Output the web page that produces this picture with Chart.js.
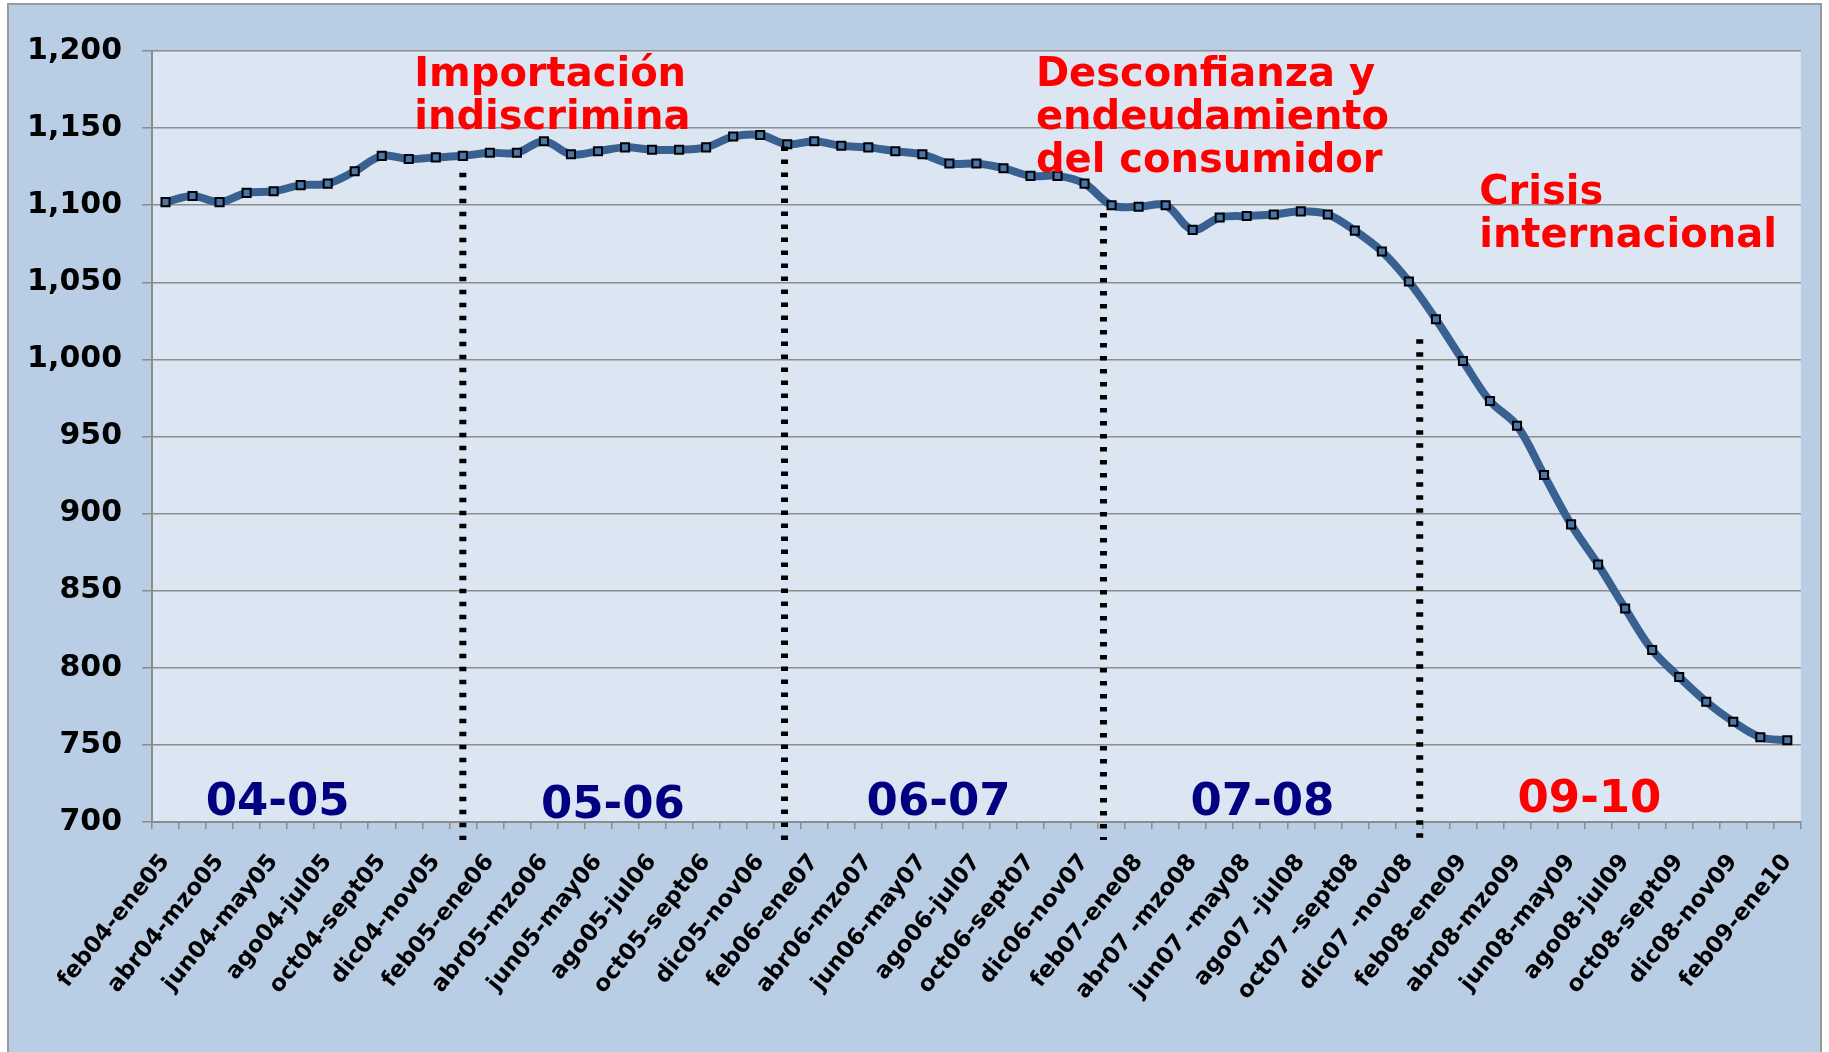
<!DOCTYPE html>
<html>
<head>
<meta charset="utf-8">
<script src="https://cdn.jsdelivr.net/npm/chart.js@4.4.1/dist/chart.umd.min.js"></script>
<style>
  html, body { margin: 0; padding: 0; background: #fff; overflow: hidden; }
  #wrap { width: 1829px; height: 1052px; position: relative; }
</style>
</head>
<body>
<div id="wrap"><canvas id="grafico"></canvas></div>
<script>
// categorias: periodos moviles de 12 meses
const periodos = [
  'feb04-ene05', 'mzo04-feb05', 'abr04-mzo05', 'may04-abr05', 'jun04-may05', 'jul04-jun05',
  'ago04-jul05', 'sept04-ago05', 'oct04-sept05', 'nov04-oct05', 'dic04-nov05', 'ene05-dic05',
  'feb05-ene06', 'mzo05-feb06', 'abr05-mzo06', 'may05-abr06', 'jun05-may06', 'jul05-jun06',
  'ago05-jul06', 'sept05-ago06', 'oct05-sept06', 'nov05-oct06', 'dic05-nov06', 'ene06-dic06',
  'feb06-ene07', 'mzo06-feb07', 'abr06-mzo07', 'may06-abr07', 'jun06-may07', 'jul06-jun07',
  'ago06-jul07', 'sept06-ago07', 'oct06-sept07', 'nov06-oct07', 'dic06-nov07', 'ene07-dic07',
  'feb07-ene08', 'mzo07 -feb08', 'abr07 -mzo08', 'may07 -abr08', 'jun07 -may08', 'jul07 -jun08',
  'ago07 -jul08', 'sept07 -ago08', 'oct07 -sept08', 'nov07 -oct08', 'dic07 -nov08', 'ene08-dic08',
  'feb08-ene09', 'mzo08-feb09', 'abr08-mzo09', 'may08-abr09', 'jun08-may09', 'jul08-jun09',
  'ago08-jul09', 'sept08-ago09', 'oct08-sept09', 'nov08-oct09', 'dic08-nov09', 'ene09-dic09',
  'feb09-ene10'
];

// valores
const valores = [
  1102, 1106, 1102, 1108, 1109, 1113, 1114, 1122, 1132, 1130, 1131, 1132,
  1134, 1134, 1141.5, 1133, 1135, 1137.5, 1136, 1136, 1137.5, 1144.5, 1145.5, 1139.5,
  1141.5, 1138.5, 1137.5, 1135, 1133, 1127, 1127, 1124, 1119, 1119, 1114, 1100,
  1099, 1100, 1084, 1092, 1093, 1094, 1096, 1094, 1083.5, 1070, 1050.5, 1026,
  999, 973, 957, 925, 893, 867, 838.5, 811.5, 794, 778, 765, 755,
  753
];

// ejes
const yMin = 700;
const yMax = 1200;
const yPaso = 50;

// textos de periodos y notas
const periodosAnio = ['04-05', '05-06', '06-07', '07-08', '09-10'];
const notas = [
  ['Importación', 'indiscrimina'],
  ['Desconfianza y', 'endeudamiento', 'del consumidor'],
  ['Crisis', 'internacional']
];
// lineas punteadas (indice de categoria) y su valor superior
const cortesX = [11, 22.9, 34.7, 46.4];
const cortesTope = [1121, 1138, 1095, 1013];

function formatoMiles(v) {
  if (v >= 1000) {
    return Math.floor(v / 1000) + ',' + String(v % 1000).padStart(3, '0');
  }
  return String(v);
}

// fondo exterior y area de trazado
const fondo = {
  id: 'fondo',
  beforeDraw(chart) {
    const c = chart.ctx;
    const a = chart.chartArea;
    c.save();
    c.fillStyle = '#ffffff';
    c.fillRect(0, 0, chart.width, chart.height);
    c.fillStyle = '#B9CDE5';
    c.fillRect(8, 4, 1813, 1060);
    c.strokeStyle = '#9a9a9a';
    c.lineWidth = 2;
    c.strokeRect(8, 4, 1813, 1060);
    c.fillStyle = '#DCE6F2';
    c.fillRect(a.left, a.top, a.right - a.left, a.bottom - a.top);
    c.restore();
  }
};

// lineas punteadas y textos
const anotaciones = {
  id: 'anotaciones',
  afterDatasetsDraw(chart) {
    const c = chart.ctx;
    const x = chart.scales.x;
    const y = chart.scales.y;
    c.save();

    c.strokeStyle = '#000';
    c.lineWidth = 7;
    c.setLineDash([4.5, 8.5]);
    cortesX.forEach(function(cx, i) {
      const px = x.getPixelForValue(cx);
      c.beginPath();
      c.moveTo(px, y.getPixelForValue(cortesTope[i]));
      c.lineTo(px, y.getPixelForValue(yMin) + 18);
      c.stroke();
    });
    c.setLineDash([]);

    // periodos anuales
    const perX = [4.15, 16.55, 28.6, 40.58, 52.68];
    const perY = [704.5, 702.4, 704.5, 704.5, 706.7];
    c.font = 'bold 45px "DejaVu Sans"';
    c.textAlign = 'center';
    c.textBaseline = 'alphabetic';
    periodosAnio.forEach(function(t, i) {
      c.fillStyle = i === periodosAnio.length - 1 ? '#FF0000' : '#000080';
      c.fillText(t, x.getPixelForValue(perX[i]), y.getPixelForValue(perY[i]));
    });

    // notas en rojo
    const notaX = [9.2, 32.2, 48.6];
    const notaY = [1177.3, 1177.3, 1100.8];
    c.font = 'bold 40px "DejaVu Sans"';
    c.textAlign = 'left';
    c.fillStyle = '#FF0000';
    notas.forEach(function(lineas, i) {
      const px = x.getPixelForValue(notaX[i]);
      const py = y.getPixelForValue(notaY[i]);
      lineas.forEach(function(t, j) {
        c.fillText(t, px, py + j * 43);
      });
    });
    c.restore();
  }
};

Chart.defaults.font.family = '"DejaVu Sans", sans-serif';

const ctx = document.getElementById('grafico').getContext('2d');
new Chart(ctx, {
  type: 'line',
  data: {
    labels: periodos,
    datasets: [{
      data: valores,
      borderColor: '#386192',
      borderWidth: 8,
      tension: 0.35,
      pointStyle: 'rect',
      pointRadius: 5.7,
      pointBackgroundColor: '#4A76A8',
      pointBorderColor: '#000',
      pointBorderWidth: 2,
      clip: false
    }]
  },
  options: {
    responsive: true,
    maintainAspectRatio: false,
    animation: false,
    layout: { padding: { left: 12, right: 27, top: 51, bottom: 0 } },
    plugins: { legend: { display: false }, tooltip: { enabled: false } },
    scales: {
      x: {
        offset: true,
        grid: { offset: true, drawOnChartArea: false, drawTicks: true, tickLength: 7, color: '#8c8c8c', lineWidth: 1.5 },
        border: { color: '#8c8c8c', width: 2 },
        ticks: {
          autoSkip: false,
          minRotation: 51,
          maxRotation: 51,
          padding: 20,
          color: '#000',
          font: { size: 23, weight: 'bold' },
          callback: function(v, i) {
            return i % 2 === 0 ? this.getLabelForValue(v) : '';
          }
        },
        afterFit: function(s) { s.height = 230; }
      },
      y: {
        min: yMin,
        max: yMax,
        ticks: {
          stepSize: yPaso,
          padding: 20,
          color: '#000',
          font: { size: 30, weight: 'bold' },
          callback: function(v) { return formatoMiles(v); }
        },
        grid: { color: '#8c8c8c', lineWidth: 1.5, tickLength: 10 },
        border: { color: '#8c8c8c', width: 2 },
        afterFit: function(s) { s.width = 140; }
      }
    }
  },
  plugins: [fondo, anotaciones]
});
</script>
</body>
</html>
